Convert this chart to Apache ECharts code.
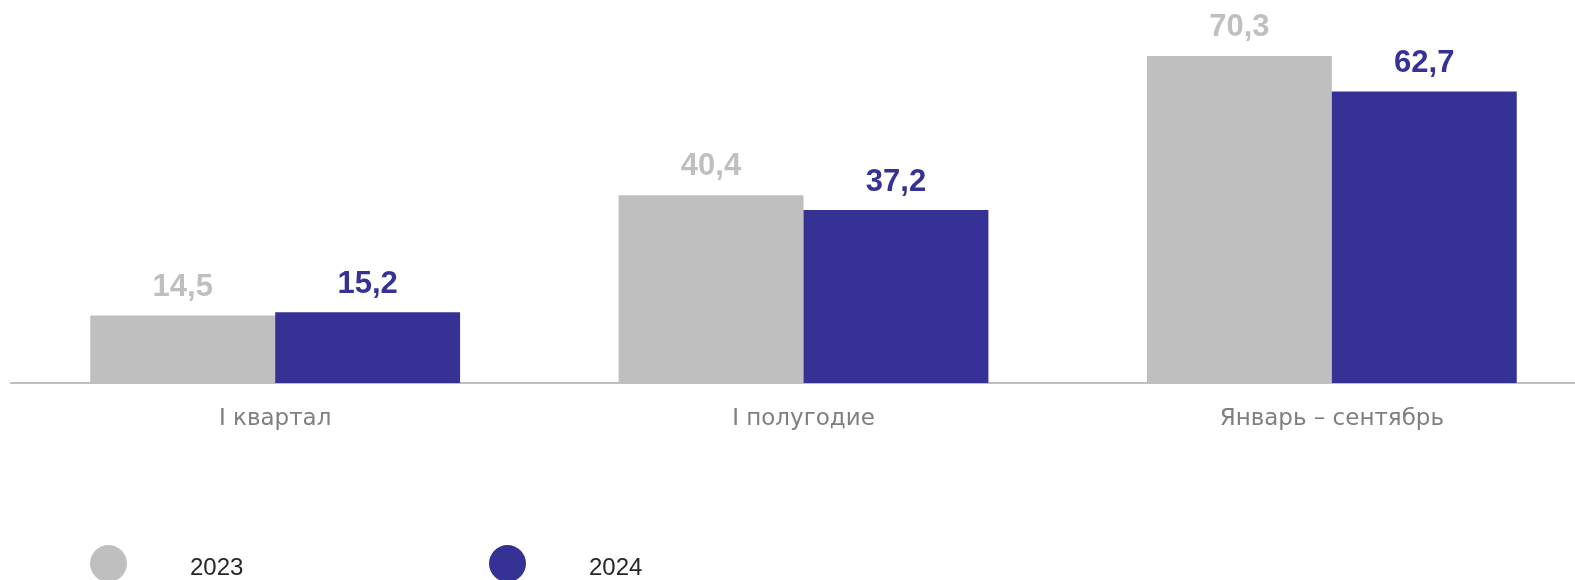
<!DOCTYPE html>
<html>
<head>
<meta charset="utf-8">
<script src="https://cdn.jsdelivr.net/npm/echarts@6/dist/echarts.min.js"></script>
<style>
html,body{margin:0;padding:0;background:#fff;}
#chart{width:1575px;height:580px;}
</style>
</head>
<body>
<div id="chart"></div>
<script>
const categories = ['I квартал', 'I полугодие', 'Январь – сентябрь'];
const seriesNames = ['2023', '2024'];
const values2023 = [14.5, 40.4, 70.3];
const values2024 = [15.2, 37.2, 62.7];
const colors = ['#bfbfbf', '#363194'];

const chart = echarts.init(document.getElementById('chart'), null, {renderer: 'canvas'});
const fmt = p => String(p.value).replace('.', ',');
const legendBase = {
  top: 545,
  padding: 0,
  orient: 'horizontal',
  icon: 'circle',
  itemWidth: 37,
  itemHeight: 37,
  formatter: name => '{t|' + name + '}',
  textStyle: {
    fontFamily: 'Liberation Sans, Arial, sans-serif', fontSize: 24, color: '#262626', padding: [0, 0, 0, 58],
    rich: {t: {fontFamily: 'Liberation Sans, Arial, sans-serif', fontSize: 24, color: '#262626', padding: [10, 0, 0, 0]}}
  }
};
chart.setOption({
  animation: false,
  backgroundColor: '#fff',
  grid: {left: 11, right: -21, top: 11, bottom: 197, containLabel: false, outerBoundsMode: 'none'},
  legend: [
    Object.assign({}, legendBase, {left: 90, data: [seriesNames[0]]}),
    Object.assign({}, legendBase, {left: 489, data: [seriesNames[1]]})
  ],
  xAxis: {
    type: 'category',
    data: categories,
    axisLine: {lineStyle: {color: '#bfbfbf', width: 2}},
    axisTick: {show: false},
    axisLabel: {fontFamily: 'DejaVu Sans, sans-serif', fontSize: 23, color: '#7f7f7f', margin: 25}
  },
  yAxis: {type: 'value', min: 0, max: 80, show: false, splitLine: {show: false}},
  series: [
    {
      name: seriesNames[0], type: 'bar', data: values2023,
      barGap: '0%', barCategoryGap: '30%',
      itemStyle: {color: colors[0]},
      label: {show: true, position: 'top', distance: 13, formatter: fmt,
        fontFamily: 'Liberation Sans, Arial, sans-serif', fontSize: 31, fontWeight: 'bold', color: '#bfbfbf'}
    },
    {
      name: seriesNames[1], type: 'bar', data: values2024,
      barGap: '0%', barCategoryGap: '30%',
      itemStyle: {color: colors[1]},
      label: {show: true, position: 'top', distance: 12, formatter: fmt,
        fontFamily: 'Liberation Sans, Arial, sans-serif', fontSize: 31, fontWeight: 'bold', color: '#363194'}
    }
  ]
});
</script>
</body>
</html>
